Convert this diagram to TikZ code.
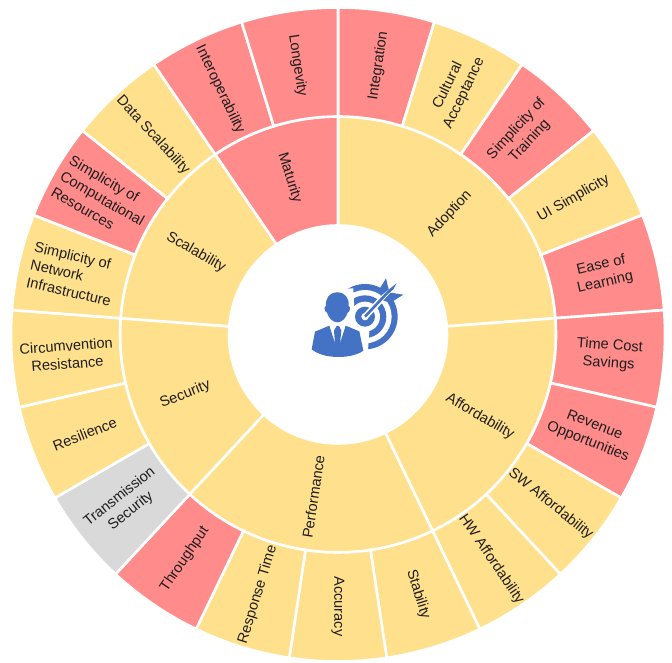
\documentclass[tikz,border=0pt]{standalone}
\usepackage{fontspec}
\setmainfont{Liberation Sans}
\definecolor{ylw}{HTML}{FFE08C}
\definecolor{rd}{HTML}{FF8B8B}
\definecolor{gry}{HTML}{D9D9D9}
\definecolor{icon}{HTML}{4472C4}
\definecolor{ink}{HTML}{1E1E1E}
\pgfmathsetmacro{\seg}{360/21}
\newcommand{\sector}[5]{% r1 r2 firstseg lastseg colour
  \pgfmathsetmacro{\aa}{90-#3*\seg}
  \pgfmathsetmacro{\ab}{90-#4*\seg}
  \fill[#5,draw=white,line width=2.6pt,line join=miter]
    (\aa:#1) arc[start angle=\aa,end angle=\ab,radius=#1]
    -- (\ab:#2) arc[start angle=\ab,end angle=\aa,radius=#2] -- cycle;
}
\newcommand{\lab}[6]{% name radius firstseg lastseg align text
  \pgfmathsetmacro{\mid}{(#3+#4)/2*\seg}
  \pgfmathsetmacro{\rt}{\mid>180.01?270-\mid:90-\mid}
  \pgfmathsetmacro{\ma}{90-\mid}
  \node[lbl,align=#5,rotate=\rt] (#1) at (\ma:#2) {#6};
}
\begin{document}
\begin{tikzpicture}[x=1pt,y=1pt,
  lbl/.style={font=\fontsize{14.6pt}{18pt}\selectfont,text=ink,inner sep=0pt}]
\useasboundingbox (0,0) rectangle (672,662);
\begin{scope}[shift={(338,327.5)}]
% inner ring
\sector{109}{218}{0}{5}{ylw}
\sector{109}{218}{5}{9}{ylw}
\sector{109}{218}{9}{13}{ylw}
\sector{109}{218}{13}{16}{ylw}
\sector{109}{218}{16}{19}{ylw}
\sector{109}{218}{19}{21}{rd}
% outer ring
\sector{218}{327}{0}{1}{rd}
\sector{218}{327}{1}{2}{ylw}
\sector{218}{327}{2}{3}{rd}
\sector{218}{327}{3}{4}{ylw}
\sector{218}{327}{4}{5}{rd}
\sector{218}{327}{5}{6}{rd}
\sector{218}{327}{6}{7}{rd}
\sector{218}{327}{7}{8}{ylw}
\sector{218}{327}{8}{9}{ylw}
\sector{218}{327}{9}{10}{ylw}
\sector{218}{327}{10}{11}{ylw}
\sector{218}{327}{11}{12}{ylw}
\sector{218}{327}{12}{13}{rd}
\sector{218}{327}{13}{14}{gry}
\sector{218}{327}{14}{15}{ylw}
\sector{218}{327}{15}{16}{ylw}
\sector{218}{327}{16}{17}{ylw}
\sector{218}{327}{17}{18}{rd}
\sector{218}{327}{18}{19}{ylw}
\sector{218}{327}{19}{20}{rd}
\sector{218}{327}{20}{21}{rd}
% inner labels
\lab{adoption}{164}{0}{5}{center}{Adoption}
\lab{afford}{164}{5}{9}{center}{Affordability}
\lab{perf}{164}{9}{13}{center}{Performance}
\lab{secur}{164}{13}{16}{center}{Security}
\lab{scal}{164}{16}{19}{center}{Scalability}
\lab{matur}{164}{19}{21}{center}{Maturity}
% outer labels
\lab{integ}{272}{0}{1}{center}{Integration}
\lab{cult}{272}{1}{2}{center}{Cultural\\Acceptance}
\lab{train}{272}{2}{3}{center}{Simplicity of\\Training}
\lab{ui}{272}{3}{4}{center}{UI Simplicity}
\lab{ease}{272}{4}{5}{center}{Ease of\\Learning}
\lab{time}{272}{5}{6}{center}{Time Cost\\Savings}
\lab{rev}{272}{6}{7}{center}{Revenue\\Opportunities}
\lab{sw}{272}{7}{8}{center}{SW Affordability}
\lab{hw}{272}{8}{9}{center}{HW Affordability}
\lab{stab}{272}{9}{10}{center}{Stability}
\lab{accu}{272}{10}{11}{center}{Accuracy}
\lab{resp}{272}{11}{12}{center}{Response Time}
\lab{thru}{272}{12}{13}{center}{Throughput}
\lab{trans}{272}{13}{14}{center}{Transmission\\Security}
\lab{resil}{272}{14}{15}{center}{Resilience}
\lab{circ}{272}{15}{16}{center}{Circumvention\\Resistance}
\lab{netw}{272}{16}{17}{left}{Simplicity of\\Network\\Infrastructure}
\lab{comp}{272}{17}{18}{left}{Simplicity of\\Computational\\Resources}
\lab{data}{272}{18}{19}{center}{Data Scalability}
\lab{inter}{272}{19}{20}{center}{Interoperability}
\lab{long}{272}{20}{21}{center}{Longevity}
\end{scope}
% icon, in crop coordinates of the centre
\begin{scope}[shift={(280,402)},x=0.3333pt,y=-0.3333pt]
\coordinate (tc) at (255,170);
\fill[icon] (tc) circle[radius=98];
\fill[white] (tc) circle[radius=80];
\fill[icon] (tc) circle[radius=64];
\fill[white] (tc) circle[radius=45];
\fill[icon] (tc) circle[radius=30];
\fill[white] (tc) circle[radius=11];
% cut away the ring at upper right for the arrow
\draw[white,line width=6pt] (tc) -- (350,70);
\draw[icon,line width=2.6pt] (tc) -- (330,90);
\fill[icon] (318,55) -- (326,88) -- (302,108) -- (298,88) -- cycle;
\fill[icon] (350,70) -- (332,84) -- (318,98) -- (326,100) -- (340,88) -- cycle;
\fill[icon] (370,104) -- (332,98) -- (310,122) -- (332,128) -- cycle;
% person with white halo
\path[fill=white] (75,300) -- (85,205) -- (135,180) -- (120,90) -- (220,85) -- (225,190) -- (268,215) -- (262,300) -- cycle;
\fill[icon] (172,97) .. controls (148,97) and (136,115) .. (138,138)
  .. controls (130,140) and (134,156) .. (141,158)
  .. controls (146,174) and (158,187) .. (172,187)
  .. controls (186,187) and (198,174) .. (203,158)
  .. controls (210,156) and (213,140) .. (206,138)
  .. controls (208,115) and (196,97) .. (172,97) -- cycle;
\fill[icon] (95,268) -- (105,215) -- (148,197) -- (165,250) -- (162,212) -- (170,198) -- (177,198) -- (184,212) -- (180,250) -- (197,197) -- (238,214) -- (250,272)
  .. controls (215,298) and (130,298) .. (95,268) -- cycle;
\end{scope}
\end{tikzpicture}
\end{document}
